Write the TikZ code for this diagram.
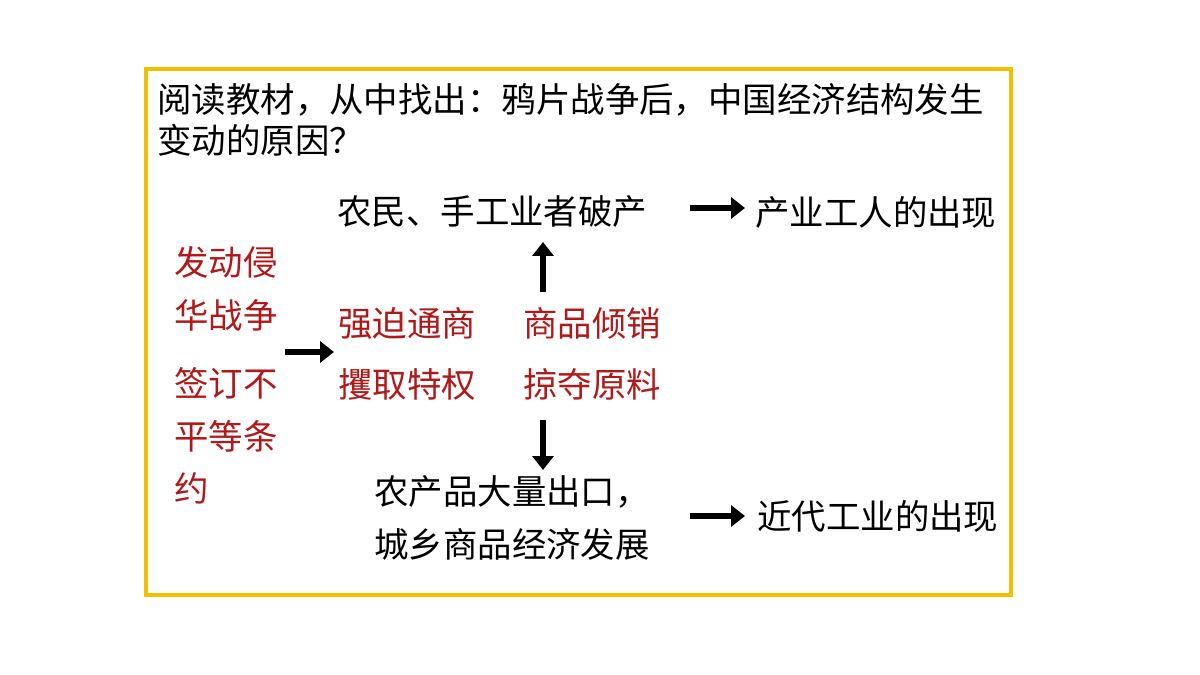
\documentclass[tikz,border=0pt]{standalone}
\usepackage{fontspec}
\setmainfont{Noto Sans CJK SC}
\usetikzlibrary{arrows.meta}
\definecolor{boxyellow}{RGB}{242,192,0}
\definecolor{causered}{RGB}{178,24,24}
\tikzset{
  txt/.style={anchor=west, inner sep=0pt, font=\fontsize{19.6}{30}\selectfont, align=left},
  red/.style={txt, text=causered},
  fat/.style={line width=0.12cm, -{Triangle[length=0.28cm,width=0.42cm]}}
}
\begin{document}
\begin{tikzpicture}[x=0.02cm, y=-0.02cm]
    \useasboundingbox (0,0) rectangle (1200,675);
    \draw[boxyellow, line width=0.09cm] (146,69) rectangle (1011,595);

    % question
    \node(q1) [txt] at (157,100) {阅读教材，从中找出：鸦片战争后，中国经济结构发生};
    \node(q2) [txt] at (157,140) {变动的原因？};

    % causes
    \node(war)    [red] at (174,289) {发动侵\\华战争};
    \node(treaty) [red] at (174,436) {签订不\\平等条\\约};
    \node(trade)  [red] at (338,323) {强迫通商};
    \node(priv)   [red] at (338,384) {攫取特权};
    \node(dump)   [red] at (523,323) {商品倾销};
    \node(grab)   [red] at (523,384) {掠夺原料};

    % results
    \node(ruin)   [txt] at (337,212) {农民、手工业者破产};
    \node(export) [txt] at (374,518) {农产品大量出口，\\城乡商品经济发展};
    \node(worker) [txt] at (755,212) {产业工人的出现};
    \node(indus)  [txt] at (757,516) {近代工业的出现};

    \coordinate(a1) at (285,352); \coordinate(a2) at (334,352);
    \coordinate(u1) at (543,292); \coordinate(u2) at (543,242);
    \coordinate(d1) at (543,420); \coordinate(d2) at (543,470);
    \coordinate(r1) at (690,208); \coordinate(r2) at (745,208);
    \coordinate(s1) at (690,516); \coordinate(s2) at (745,516);

    \draw [fat] (a1) -- (a2);
    \draw [fat] (u1) -- (u2);
    \draw [fat] (d1) -- (d2);
    \draw [fat] (r1) -- (r2);
    \draw [fat] (s1) -- (s2);
\end{tikzpicture}
\end{document}
